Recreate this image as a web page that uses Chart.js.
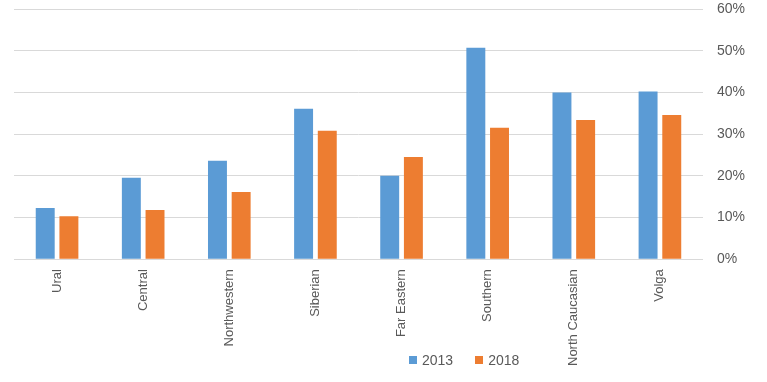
<!DOCTYPE html>
<html>
<head>
<meta charset="utf-8">
<script src="https://cdn.jsdelivr.net/npm/chart.js@4/dist/chart.umd.min.js"></script>
<style>
  html, body { margin: 0; padding: 0; background: #fff; }
  #wrap { position: relative; width: 767px; height: 382px; }
  #legend { position: absolute; left: 409px; top: 352px; font: 14px "Liberation Sans", Arial, sans-serif; color: #595959; display: flex; }
  #legend span { display: inline-flex; align-items: center; margin-right: 22px; }
  #legend i { display: inline-block; width: 8px; height: 8px; margin-right: 5px; }
</style>
</head>
<body>
<div id="wrap">
  <canvas id="chart" width="767" height="382"></canvas>
  <div id="legend"></div>
</div>
<script>
const regions = ['Ural', 'Central', 'Northwestern', 'Siberian', 'Far Eastern', 'Southern', 'North Caucasian', 'Volga'];
const values2013 = [12.3, 19.5, 23.6, 36.1, 20.0, 50.7, 40.0, 40.2];
const values2018 = [10.3, 11.8, 16.1, 30.8, 24.5, 31.5, 33.4, 34.6];
const seriesNames = ['2013', '2018'];
const seriesColors = ['#5b9bd5', '#ed7d31'];

const ctx = document.getElementById('chart').getContext('2d');
new Chart(ctx, {
  type: 'bar',
  data: {
    labels: regions,
    datasets: [
      { label: seriesNames[0], data: values2013, backgroundColor: seriesColors[0] },
      { label: seriesNames[1], data: values2018, backgroundColor: seriesColors[1] }
    ]
  },
  options: {
    responsive: false,
    animation: false,
    layout: { padding: { left: 14, right: 22, top: 9, bottom: 6 } },
    datasets: { bar: { categoryPercentage: 0.55, barPercentage: 0.8 } },
    plugins: { legend: { display: false }, tooltip: { enabled: false } },
    scales: {
      x: {
        grid: { display: false, drawTicks: false },
        border: { color: '#d9d9d9' },
        ticks: {
          minRotation: 90, maxRotation: 90, padding: 10,
          color: '#595959', font: { family: 'Liberation Sans', size: 13 }
        }
      },
      y: {
        position: 'right',
        min: 0, max: 60,
        // tick marks only used as transparent spacing so the top edge stays high
        grid: { color: '#d9d9d9', drawTicks: true, tickLength: 14, tickColor: 'rgba(0,0,0,0)' },
        border: { display: false },
        ticks: {
          stepSize: 10, padding: 0,
          color: '#595959', font: { family: 'Liberation Sans', size: 14 },
          callback: v => v + '%'
        }
      }
    }
  }
});

const legend = document.getElementById('legend');
seriesNames.forEach((name, i) => {
  const s = document.createElement('span');
  s.innerHTML = '<i style="background:' + seriesColors[i] + '"></i>' + name;
  legend.appendChild(s);
});
</script>
</body>
</html>
